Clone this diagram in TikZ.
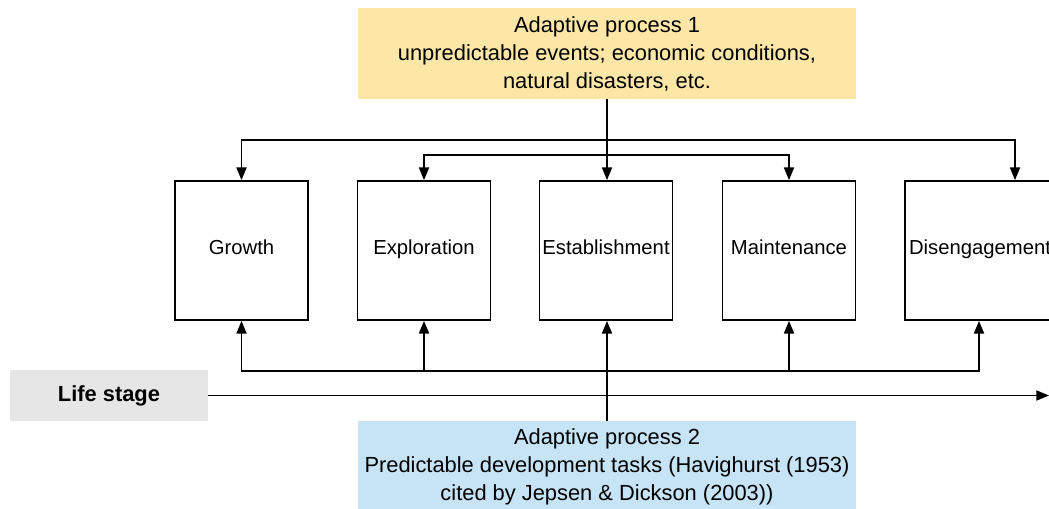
\documentclass[tikz,border=0pt]{standalone}
\usepackage{fontspec}
\setmainfont{Liberation Sans}
\usetikzlibrary{
    arrows.meta,
    positioning
}
\definecolor{procyellow}{HTML}{FDE7A6}
\definecolor{procblue}{HTML}{C6E4F5}
\definecolor{stagegrey}{HTML}{E6E6E6}

\begin{document}
\begin{tikzpicture}[x=0.75pt, y=-0.75pt,
    every node/.style={font=\fontsize{16.4}{21}\selectfont},
    stage/.style={draw, line width=1.3pt, minimum width=99.75pt, minimum height=104.25pt, inner sep=0pt,
        font=\fontsize{15.2}{20}\selectfont, text height=1.6ex, text depth=0.4ex},
    process/.style={minimum width=373.5pt, minimum height=68.25pt, align=center, inner sep=0pt},
    link/.style={line width=1.3pt, -{Triangle[length=9.5pt,width=7.5pt]}}]
    \clip (0,0) rectangle (1049,508);
    % adaptive processes
    \node[process, fill=procyellow] (ap1) at (607,53.5)
        {Adaptive process 1\\unpredictable events; economic conditions,\\natural disasters, etc.};
    \node[process, fill=procblue] (ap2) at (607,466.5)
        {Adaptive process 2\\Predictable development tasks (Havighurst (1953)\\cited by Jepsen \& Dickson (2003))};
    % life stages
    \node[stage] (gro) at (241.5,250.5) {Growth};
    \node[stage] (exp) at (424,250.5) {Exploration};
    \node[stage] (est) at (606,250.5) {Establishment};
    \node[stage] (mai) at (789,250.5) {Maintenance};
    \node[stage, minimum width=112.5pt] (dis) at (980,250.5) {Disengagement};
    \node[fill=stagegrey, minimum width=148.5pt, minimum height=38.25pt, font=\fontsize{16.4}{21}\selectfont\bfseries] (life) at (109,395.5) {Life stage};
    \coordinate (lifeend) at (1049,395.5);
    \draw[link] (life) -- (lifeend);
    % top branches
    \coordinate (topbus) at (607,140);
    \coordinate (midbus) at (607,155);
    \draw[link] (ap1.south) -- (ap1.south |- est.north);
    \draw[link] (topbus) -| (gro.north);
    \draw[link] (topbus) -| ([xshift=26.25pt]dis.north);
    \draw[link] (midbus) -| (exp.north);
    \draw[link] (midbus) -| (mai.north);
    % bottom branches
    \coordinate (lowbus) at (607,371);
    \draw[link] (ap2.north) -- (ap2.north |- est.south);
    \draw[link] (lowbus) -| (gro.south);
    \draw[link] (lowbus) -| (exp.south);
    \draw[link] (lowbus) -| (mai.south);
    \draw[link] (lowbus) -| ([xshift=-0.75pt]dis.south);
\end{tikzpicture}
\end{document}
